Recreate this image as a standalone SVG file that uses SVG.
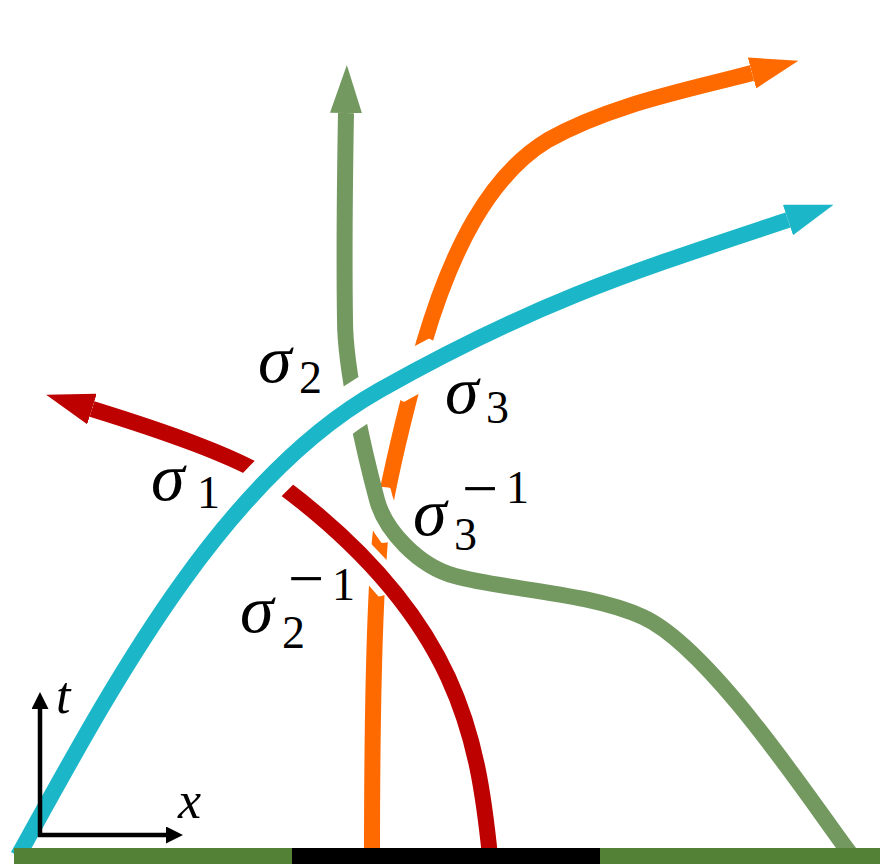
<svg xmlns="http://www.w3.org/2000/svg" width="880" height="864" viewBox="0 0 880 864">
<style>
.strand{fill:none;stroke-width:16;stroke-linecap:butt;stroke-linejoin:round}
.halo{fill:none;stroke:#ffffff;stroke-linecap:butt}
.sig{font-family:"Liberation Serif","DejaVu Serif",serif;font-style:italic;font-size:68px;fill:#000}
.sub{font-style:normal;font-size:46px}
.minus{font-style:normal;font-size:64px}
.axl{font-family:"Liberation Serif","DejaVu Serif",serif;font-style:italic;font-size:52px;fill:#000}
</style>
<defs>
<marker id="mk-cyan" viewBox="0 -1 3 2" markerWidth="3" markerHeight="2" refX="0" refY="0" orient="auto" markerUnits="strokeWidth"><path d="M0,-1 L3,0 L0,1 z" fill="#1bb7c9"/></marker>
<marker id="mk-red" viewBox="0 -1 3 2" markerWidth="3" markerHeight="2" refX="0" refY="0" orient="auto" markerUnits="strokeWidth"><path d="M0,-1 L3,0 L0,1 z" fill="#bd0000"/></marker>
<marker id="mk-orange" viewBox="0 -1 3 2" markerWidth="3" markerHeight="2" refX="0" refY="0" orient="auto" markerUnits="strokeWidth"><path d="M0,-1 L3,0 L0,1 z" fill="#ff6a00"/></marker>
<marker id="mk-green" viewBox="0 -1 3 2" markerWidth="3" markerHeight="2" refX="0" refY="0" orient="auto" markerUnits="strokeWidth"><path d="M0,-1 L3,0 L0,1 z" fill="#739961"/></marker>
<marker id="mk-axis" viewBox="0 -8.5 17 17" markerWidth="17" markerHeight="17" refX="0" refY="0" orient="auto-start-reverse" markerUnits="userSpaceOnUse"><path d="M0,-8.5 L17,0 L0,8.5 z" fill="#000"/></marker>
<path id="p-cyan" d="M18,856 C110,690 220,480 380,390 C540,300 638,270 788,220"/>
<path id="p-red" d="M490,856 C478,740 460,620 283,487 C243,457 150,427 92,409"/>
<path id="p-orange" d="M372,856 C372,720 375,600 380,540 C384,495 408,400 424,343 C452,248 490,175 548,140 C610,105 684,91 752,73"/>
<path id="p-green" d="M852,856 C820,815 713,649 643,617 C588,592 505,590 455,576 C418,566 385,530 377,500 C365,455 345,370 345,320 C344,250 345,170 346,113"/>
<clipPath id="clip-cyan"><circle cx="269" cy="477" r="34"/><circle cx="355" cy="403" r="34"/><circle cx="416" cy="370" r="34"/></clipPath>
<clipPath id="clip-green"><circle cx="383" cy="515" r="28"/></clipPath>
<clipPath id="clip-red"><circle cx="375" cy="569" r="28"/></clipPath>
</defs>

<g id="connectors">
<g id="strand-orange"><use href="#p-orange" class="strand" stroke="#ff6a00" marker-end="url(#mk-orange)"/></g>
<g id="strand-green"><use href="#p-green" class="halo" stroke-width="32" clip-path="url(#clip-green)"/><use href="#p-green" class="strand" stroke="#739961" marker-end="url(#mk-green)"/></g>
<g id="strand-red"><use href="#p-red" class="halo" stroke-width="30" clip-path="url(#clip-red)"/><use href="#p-red" class="strand" stroke="#bd0000" marker-end="url(#mk-red)"/></g>
<g id="strand-cyan"><use href="#p-cyan" class="halo" stroke-width="44" clip-path="url(#clip-cyan)"/><use href="#p-cyan" class="strand" stroke="#1bb7c9" marker-end="url(#mk-cyan)"/></g>
</g>

<g id="axes">
<path d="M40,709 L40,835 L166,835" fill="none" stroke="#000" stroke-width="4.5" stroke-linejoin="miter" marker-start="url(#mk-axis)" marker-end="url(#mk-axis)"/>
<text class="axl" x="56" y="713">t</text>
<text class="axl" x="178" y="818">x</text>
</g>

<g id="base">
<rect x="14" y="848" width="278" height="16" fill="#538135"/>
<rect x="292" y="848" width="308" height="16" fill="#000"/>
<rect x="600" y="848" width="280" height="16" fill="#538135"/>
</g>

<g id="labels">
<text id="label-s1" class="sig" x="151" y="500">σ<tspan class="sub" x="197" y="508">1</tspan></text>
<text id="label-s2" class="sig" x="258" y="382">σ<tspan class="sub" x="299" y="393">2</tspan></text>
<text id="label-s3" class="sig" x="445" y="413">σ<tspan class="sub" x="486" y="423">3</tspan></text>
<text id="label-s3inv" class="sig" x="413" y="535">σ<tspan class="sub" x="454" y="550">3</tspan><tspan class="minus" x="462" y="510">−</tspan><tspan class="sub" x="506" y="503">1</tspan></text>
<text id="label-s2inv" class="sig" x="240" y="632">σ<tspan class="sub" x="282" y="648">2</tspan><tspan class="minus" x="288" y="600">−</tspan><tspan class="sub" x="332" y="600">1</tspan></text>
</g>
</svg>
